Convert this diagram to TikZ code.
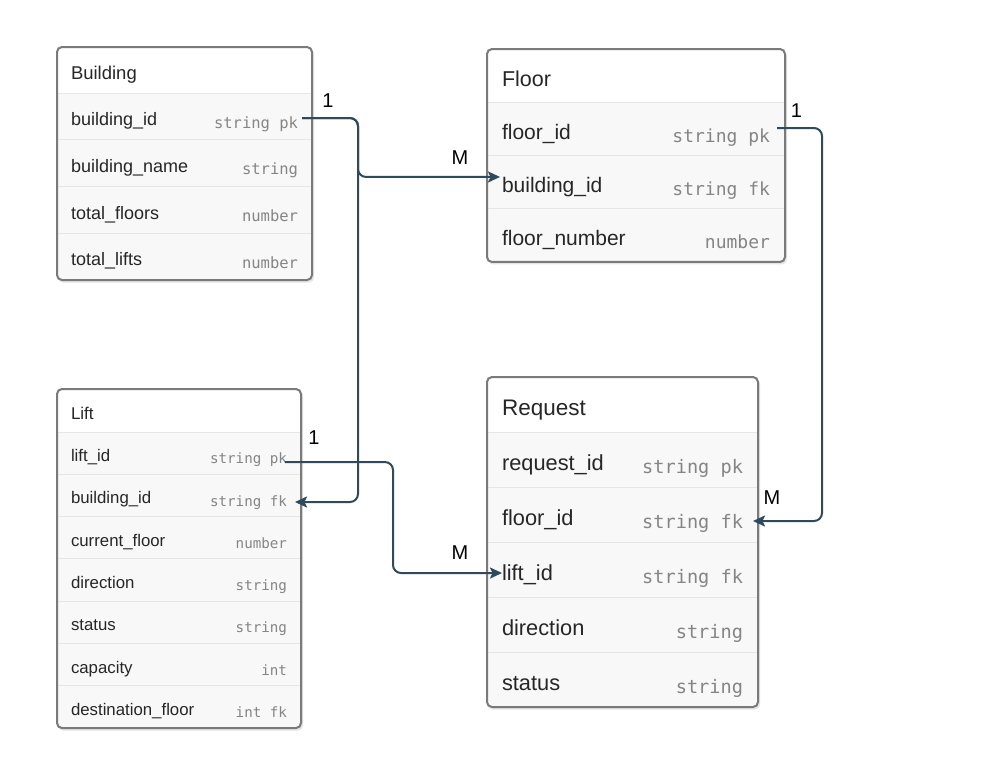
\documentclass[tikz,border=0pt]{standalone}
\usepackage{fontspec}
\usetikzlibrary{arrows.meta}
\newfontfamily\namefont{Liberation Sans}
\newfontfamily\typefont{DejaVu Sans Mono}
\definecolor{conn}{HTML}{2E4A5C}
\definecolor{bordc}{HTML}{7A7A7A}
\definecolor{rowbg}{HTML}{F8F8F8}
\definecolor{sepc}{HTML}{E6E6E6}
\definecolor{namec}{HTML}{262626}
\definecolor{typec}{HTML}{858585}

% #1 id, #2 left, #3 top, #4 right, #5 header bottom, #6 row height, #7 rows, #8 title, #9 rows list
\newcommand\ertable[9]{%
  \pgfmathsetmacro\tB{#5+#6*#7}%
  \fill[black!10, rounded corners=5pt] (#2+1,#3+2) rectangle (#4+2,\tB+2.5);
  \begin{scope}
    \clip[rounded corners=5pt] (#2,#3) rectangle (#4,\tB);
    \fill[white] (#2,#3) rectangle (#4,#5);
    \fill[rowbg] (#2,#5) rectangle (#4,\tB);
    \pgfmathtruncatemacro\tN{#7-1}%
    \foreach \k in {0,...,\tN} {\draw[sepc, line width=1pt] (#2,#5+\k*#6) -- (#4,#5+\k*#6);}
  \end{scope}
  \draw[bordc, line width=2pt, rounded corners=5pt] (#2,#3) rectangle (#4,\tB);
  \node[ftitle, anchor=base west] (#1-title) at (#2+\tpad, {#3+0.70*(#5-#3)}) {#8};
  \foreach \fn/\ft [count=\i from 0] in {#9} {
    \node[fname, anchor=base west] (#1-n\i) at (#2+\tpad, {#5+(\i+0.70)*#6}) {\fn};
    \node[ftype, anchor=base east] (#1-t\i) at (#4-\tpad, {#5+(\i+0.75)*#6}) {\ft};
  }%
}

\begin{document}
\begin{tikzpicture}[x=1pt, y=-1pt,
  every node/.style={inner sep=0pt, outer sep=0pt},
  link/.style={conn, line width=2pt, rounded corners=8pt, -{Stealth[length=12pt,width=11pt,inset=2.5pt]}},
  card/.style={font=\namefont\fontsize{20}{22}\selectfont, text=black},
  ]
\useasboundingbox (0,0) rectangle (992,774);
\fill[white] (0,0) rectangle (992,774);

% Building
\begin{scope}[ftitle/.style={font=\namefont\fontsize{18.5}{20}\selectfont, text=namec},
  fname/.style={font=\namefont\fontsize{18}{20}\selectfont, text=namec},
  ftype/.style={font=\typefont\fontsize{15.5}{18}\selectfont, text=typec}]
\def\tpad{14}
\ertable{building}{57}{47}{312}{93}{46.75}{4}{Building}{building\_id/string pk, building\_name/string, total\_floors/number, total\_lifts/number}
\end{scope}

% Floor
\begin{scope}[ftitle/.style={font=\namefont\fontsize{21.5}{24}\selectfont, text=namec},
  fname/.style={font=\namefont\fontsize{21}{24}\selectfont, text=namec},
  ftype/.style={font=\typefont\fontsize{18}{20}\selectfont, text=typec}]
\def\tpad{15}
\ertable{floor}{487}{49}{785}{102}{53.33}{3}{Floor}{floor\_id/string pk, building\_id/string fk, floor\_number/number}
\end{scope}

% Lift
\begin{scope}[ftitle/.style={font=\namefont\fontsize{17}{20}\selectfont, text=namec},
  fname/.style={font=\namefont\fontsize{16.8}{20}\selectfont, text=namec},
  ftype/.style={font=\typefont\fontsize{14.2}{17}\selectfont, text=typec}]
\def\tpad{14}
\ertable{lift}{57}{389}{301}{432}{42.29}{7}{Lift}{lift\_id/string pk, building\_id/string fk, current\_floor/number, direction/string, status/string, capacity/int, destination\_floor/int fk}
\end{scope}

% Request
\begin{scope}[ftitle/.style={font=\namefont\fontsize{22.5}{24}\selectfont, text=namec},
  fname/.style={font=\namefont\fontsize{21.8}{24}\selectfont, text=namec},
  ftype/.style={font=\typefont\fontsize{18.6}{21}\selectfont, text=typec}]
\def\tpad{15}
\ertable{request}{487}{377}{758}{432}{55}{5}{Request}{request\_id/string pk, floor\_id/string fk, lift\_id/string fk, direction/string, status/string}
\end{scope}

% connector ports
\coordinate (bpk)  at ([xshift=4pt, yshift=10pt]building-t0.base east);
\coordinate (fbid) at ([xshift=-2pt, yshift=15.7pt]floor-n1.base west);
\coordinate (lbid) at ([xshift=8pt, yshift=4pt]lift-t1.base east);
\coordinate (fpk)  at ([xshift=7pt, yshift=14pt]floor-t0.base east);
\coordinate (rfid) at ([xshift=10pt, yshift=7.25pt]request-t1.base east);
\coordinate (lpk)  at ([xshift=-2pt, yshift=1.7pt]lift-t0.base east);
\coordinate (rlid) at ([xshift=0pt, yshift=7.5pt]request-n2.base west);

\draw[link] (bpk) -- ++(56,0) |- (fbid);
\draw[link] (bpk) -- ++(56,0) |- (lbid);
\draw[link] (fpk) -- ++(45,0) |- (rfid);
\draw[link] (lpk) -- ++(108,0) |- (rlid);

% cardinalities
\node[card] (c1) at (328,100.5) {1};
\node[card] (c2) at (460,158) {M};
\node[card] (c3) at (796.5,111) {1};
\node[card] (c4) at (772,498) {M};
\node[card] (c5) at (314,437.5) {1};
\node[card] (c6) at (460,552.5) {M};
\end{tikzpicture}
\end{document}
